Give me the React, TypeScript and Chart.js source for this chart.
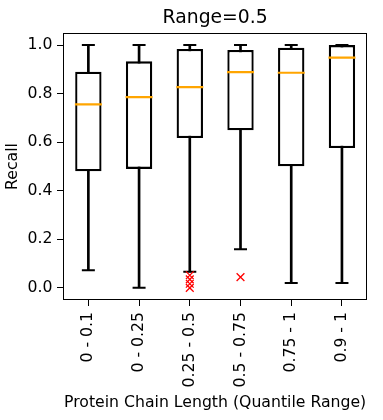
import React, { useEffect, useRef } from "react";
import { Chart, registerables } from "chart.js";

Chart.register(...registerables);

const categories = ["0 - 0.1", "0 - 0.25", "0.25 - 0.5", "0.5 - 0.75", "0.75 - 1", "0.9 - 1"];
const whiskerLow = [0.073, 0.0, 0.066, 0.159, 0.02, 0.02];
const q1 = [0.48, 0.49, 0.617, 0.649, 0.501, 0.576];
const medians = [0.756, 0.786, 0.827, 0.889, 0.886, 0.948];
const q3 = [0.89, 0.933, 0.984, 0.98, 0.989, 1.0];
const whiskerHigh = [1.0, 1.0, 1.0, 1.0, 1.0, 1.0];
const outlierCategories = ["0.25 - 0.5", "0.25 - 0.5", "0.25 - 0.5", "0.25 - 0.5", "0.5 - 0.75"];
const outlierValues = [0.052, 0.035, 0.017, 0.0, 0.044];
const yTicks = [0.0, 0.2, 0.4, 0.6, 0.8, 1.0];

const title = "Range=0.5";
const xTitle = "Protein Chain Length (Quantile Range)";
const yTitle = "Recall";

const framePlugin = {
  id: "frame",
  afterDraw(chart: any) {
    const { ctx, chartArea } = chart;
    ctx.save();
    ctx.strokeStyle = "#000";
    ctx.lineWidth = 1;
    ctx.strokeRect(
      Math.round(chartArea.left) + 0.5,
      Math.round(chartArea.top) + 0.5,
      Math.round(chartArea.right - chartArea.left) - 1,
      Math.round(chartArea.bottom - chartArea.top) - 1
    );
    ctx.restore();
  },
};

const FS = 15.7;

export default function App() {
  const ref = useRef<HTMLCanvasElement | null>(null);
  useEffect(() => {
    document.body.style.margin = "0";
    Chart.defaults.font.family = "'DejaVu Sans'";
    Chart.defaults.font.size = FS;
    Chart.defaults.color = "#000";
    const chart = new Chart(ref.current as HTMLCanvasElement, {
      type: "bar",
      data: {
        labels: categories,
        datasets: [
          {
            type: "bar",
            data: whiskerLow.map((v, i) => [v, whiskerHigh[i]]),
            backgroundColor: "#000",
            borderWidth: 0,
            barThickness: 2,
            grouped: false,
            order: 5,
          } as any,
          {
            type: "bar",
            data: q1.map((v, i) => [v, q3[i]]),
            backgroundColor: "#fff",
            borderColor: "#000",
            borderWidth: 2.3,
            borderSkipped: false,
            barPercentage: 0.52,
            categoryPercentage: 1,
            grouped: false,
            order: 4,
          } as any,
          {
            type: "line",
            data: whiskerLow,
            showLine: false,
            pointStyle: "line",
            pointRadius: 6.5,
            pointBorderWidth: 2,
            pointBorderColor: "#000",
            order: 3,
          } as any,
          {
            type: "line",
            data: whiskerHigh,
            showLine: false,
            pointStyle: "line",
            pointRadius: 6.5,
            pointBorderWidth: 2,
            pointBorderColor: "#000",
            order: 3,
          } as any,
          {
            type: "line",
            data: medians,
            showLine: false,
            pointStyle: "line",
            pointRadius: 13.5,
            pointBorderWidth: 2.2,
            pointBorderColor: "#FFA500",
            order: 2,
          } as any,
          {
            type: "line",
            data: outlierCategories.map((c, i) => ({ x: c, y: outlierValues[i] })),
            showLine: false,
            pointStyle: "crossRot",
            pointRadius: 5.5,
            pointBorderWidth: 1.3,
            pointBorderColor: "#ff0000",
            order: 1,
          } as any,
        ],
      },
      options: {
        animation: false,
        responsive: false,
        events: [],
        layout: { padding: { left: 0, right: 13, top: 0, bottom: 0 } },
        plugins: {
          legend: { display: false },
          tooltip: { enabled: false },
          title: {
            display: true,
            text: title,
            fullSize: false,
            font: { size: 18.8, weight: "normal" },
            color: "#000",
            padding: { top: 7, bottom: 3.4 },
          },
        },
        scales: {
          x: {
            type: "category",
            offset: true,
            grid: { display: true, offset: false, drawOnChartArea: false, tickLength: 6, tickColor: "#000", tickWidth: 1 },
            border: { display: false },
            ticks: { maxRotation: 90, minRotation: 90, padding: 6, color: "#000", font: { size: FS } },
            title: { display: true, text: xTitle, color: "#000", font: { size: FS }, padding: { top: 0, bottom: 7.3 } },
            afterFit: (s: any) => {
              s.height = 120;
            },
          },
          y: {
            type: "linear",
            min: -0.05,
            max: 1.05,
            grid: { display: true, drawOnChartArea: false, tickLength: 6, tickColor: "#000", tickWidth: 1 },
            border: { display: false },
            afterBuildTicks: (s: any) => {
              s.ticks = yTicks.map((v) => ({ value: v }));
            },
            ticks: { padding: 4.5, color: "#000", font: { size: FS }, callback: (v: any) => Number(v).toFixed(1) },
            title: { display: true, text: yTitle, color: "#000", font: { size: FS }, padding: { top: 4, bottom: 0 } },
            afterFit: (s: any) => {
              s.width = 63;
            },
          },
        },
      },
      plugins: [framePlugin],
    } as any);
    return () => chart.destroy();
  }, []);
  return (
    <div style={{ width: 383, height: 420 }}>
      <canvas ref={ref} width={383} height={420} />
    </div>
  );
}
